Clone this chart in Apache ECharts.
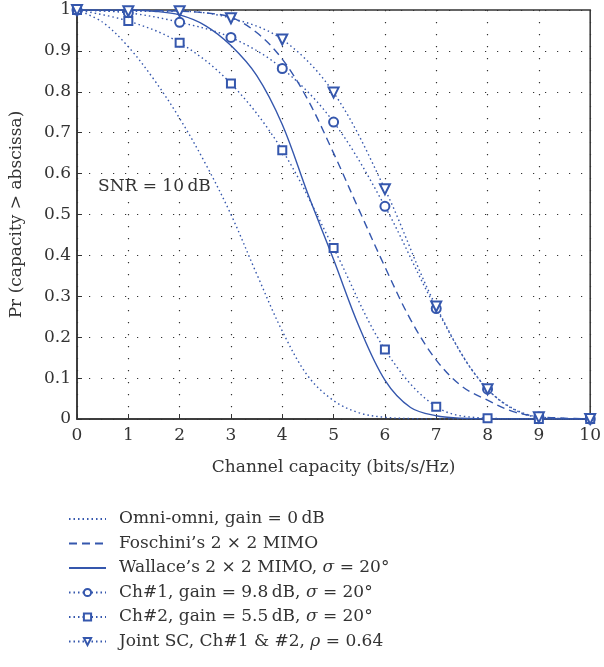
<!DOCTYPE html>
<html>
<head>
<meta charset="utf-8">
<script src="https://cdn.jsdelivr.net/npm/echarts@6/dist/echarts.min.js"></script>
<style>
  html, body { margin: 0; padding: 0; background: #fff; }
  #chart { width: 604px; height: 667px; }
</style>
</head>
<body>
<div id="chart"></div>
<script>
// fine-sampled curves (step 0.5)
const xFine = [0, 0.5, 1, 1.5, 2, 2.5, 3, 3.5, 4, 4.5, 5, 5.5, 6, 6.5, 7, 7.5, 8, 8.5, 9, 9.5, 10];
const omni = [1, 0.97, 0.91, 0.83, 0.735, 0.625, 0.5, 0.355, 0.215, 0.105, 0.045, 0.015, 0.004, 0.001, 0, 0, 0, 0, 0, 0, 0];
const foschini = [1, 1, 1, 0.999, 0.997, 0.993, 0.982, 0.945, 0.88, 0.78, 0.65, 0.51, 0.372, 0.243, 0.144, 0.08, 0.046, 0.018, 0.006, 0.002, 0];
const wallace = [1, 1, 1, 0.997, 0.988, 0.962, 0.913, 0.84, 0.72, 0.55, 0.39, 0.225, 0.095, 0.028, 0.008, 0.002, 0, 0, 0, 0, 0];

// measured points (integers)
const xInt = [0, 1, 2, 3, 4, 5, 6, 7, 8, 9, 10];
const ch1 = [1, 0.993, 0.97, 0.933, 0.857, 0.726, 0.52, 0.27, 0.073, 0.005, 0];
const ch2 = [1, 0.973, 0.92, 0.82, 0.657, 0.418, 0.17, 0.03, 0.002, 0, 0];
const joint = [1, 0.997, 0.997, 0.98, 0.928, 0.798, 0.562, 0.275, 0.073, 0.004, 0];

const names = [
  'Omni-omni, gain = 0\u2009dB',
  'Foschini\u2019s 2 \u00d7 2 MIMO',
  'Wallace\u2019s 2 \u00d7 2 MIMO, \u03c3 = 20\u00b0',
  'Ch#1, gain = 9.8\u2009dB, \u03c3 = 20\u00b0',
  'Ch#2, gain = 5.5\u2009dB, \u03c3 = 20\u00b0',
  'Joint SC, Ch#1 & #2, \u03c1 = 0.64'
];

const blue = '#3557ad';
const font = 'DejaVu Serif';

function pairs(xs, ys) {
  return xs.map((x, i) => [x, ys[i]]);
}

function curve(name, xs, ys, type, symbol, extra) {
  return Object.assign({
    name: name,
    type: 'line',
    data: pairs(xs, ys),
    smooth: 0.35,
    symbol: symbol || 'circle',
    symbolSize: 9,
    showSymbol: !!symbol,
    lineStyle: { color: blue, width: 1.4, type: type },
    itemStyle: { color: blue, borderColor: blue, borderWidth: 1.3 },
    emphasis: { disabled: true }
  }, extra || {});
}

// legend entries: plain curves get no symbol in their icon
const legendData = names.map((n, i) => i < 3
  ? { name: n, itemStyle: { opacity: 0, color: 'rgba(0,0,0,0)', borderColor: 'rgba(0,0,0,0)' } }
  : { name: n });

const gridDots = { show: true, lineStyle: { color: '#333', type: [1.2, 10.8], width: 1.2 } };

const chart = echarts.init(document.getElementById('chart'));

chart.setOption({
  animation: false,
  textStyle: { fontFamily: font },
  grid: {
    left: 75, right: 10, top: 10, bottom: 248,
    show: true, borderColor: '#333', borderWidth: 1.5
  },
  xAxis: {
    type: 'value', min: 0, max: 10, interval: 1,
    name: 'Channel capacity (bits/s/Hz)',
    nameLocation: 'middle', nameGap: 40,
    nameTextStyle: { fontFamily: font, fontSize: 17, color: '#333' },
    axisLine: { lineStyle: { color: '#333', width: 1.5 } },
    axisTick: { inside: true, length: 5, lineStyle: { color: '#333' } },
    axisLabel: { fontFamily: font, fontSize: 17, color: '#333', margin: 8 },
    splitLine: gridDots
  },
  yAxis: {
    type: 'value', min: 0, max: 1, interval: 0.1,
    name: 'Pr (capacity > abscissa)',
    nameLocation: 'middle', nameGap: 52,
    nameTextStyle: { fontFamily: font, fontSize: 17, color: '#333' },
    axisLine: { show: true, lineStyle: { color: '#333', width: 1.5 } },
    axisTick: { show: true, inside: true, length: 5, lineStyle: { color: '#333' } },
    axisLabel: {
      fontFamily: font, fontSize: 17, color: '#333', margin: 6,
      formatter: v => (v === 0 || v === 1) ? String(v) : v.toFixed(1)
    },
    splitLine: gridDots
  },
  legend: {
    orient: 'vertical',
    left: 68, top: 510, padding: 0,
    itemWidth: 37, itemHeight: 9, itemGap: 6.5,
    selectedMode: false,
    textStyle: {
      fontFamily: font, fontSize: 17, color: '#333', lineHeight: 18,
      padding: [0, 0, 0, 8],
      rich: { it: { fontFamily: font, fontSize: 17, fontStyle: 'italic', color: '#333' } }
    },
    formatter: n => n.replace(/([\u03c3\u03c1])/g, '{it|$1}'),
    data: legendData
  },
  graphic: [{
    type: 'text', left: 98, top: 178,
    style: { text: 'SNR = 10\u2009dB', font: '17px "DejaVu Serif"', fill: '#333' }
  }],
  series: [
    curve(names[0], xFine, omni, [1.5, 3]),
    curve(names[1], xFine, foschini, [8, 5]),
    curve(names[2], xFine, wallace, 'solid'),
    curve(names[3], xInt, ch1, [1.5, 3], 'emptyCircle'),
    curve(names[4], xInt, ch2, [1.5, 3], 'emptyRect', { symbolSize: 8 }),
    curve(names[5], xInt, joint, [1.5, 3], 'emptyTriangle', { symbolSize: 10, symbolRotate: 180 })
  ]
});
</script>
</body>
</html>
